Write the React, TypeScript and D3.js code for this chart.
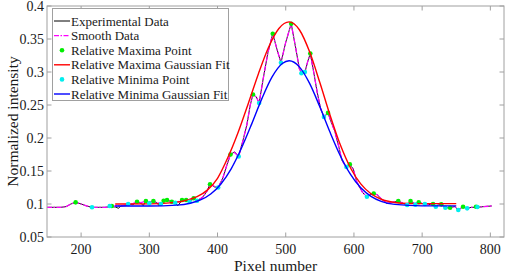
import React from "react";
import * as d3 from "d3";

// ---------- data ----------
const xTicks = [200, 300, 400, 500, 600, 700, 800];
const yTicks = [0.05, 0.1, 0.15, 0.2, 0.25, 0.3, 0.35, 0.4];
const yTickLabels = ["0.05", "0.1", "0.15", "0.2", "0.25", "0.3", "0.35", "0.4"];

const expX = [150, 160, 170, 178, 185, 192, 200, 208, 216, 225, 235, 243, 250, 255, 258, 265, 270, 276, 282, 288, 291, 295, 300, 306, 312, 314, 317, 321, 326, 333, 338, 342, 348, 354, 359, 365, 370, 378, 385, 389, 395, 401, 408, 414, 419, 425, 431, 437, 443, 448, 452, 457, 461, 467, 474, 481, 487, 493, 500, 508, 514, 520, 524, 528, 532, 536, 541, 546, 551, 556, 562, 566, 572, 578, 582, 586, 590, 594, 599, 604, 608, 613, 619, 624, 629, 634, 640, 648, 655, 665, 672, 678, 683, 690, 695, 702, 710, 716, 719, 724, 728, 734, 741, 748, 753, 760, 766, 772, 780, 790, 802];
const expY = [0.095, 0.095, 0.095, 0.096, 0.1, 0.1025, 0.1, 0.097, 0.095, 0.095, 0.095, 0.096, 0.0955, 0.0935, 0.097, 0.0975, 0.0995, 0.099, 0.1035, 0.101, 0.0975, 0.1045, 0.102, 0.1045, 0.101, 0.0975, 0.1, 0.105, 0.106, 0.1035, 0.101, 0.0975, 0.106, 0.106, 0.1035, 0.1087, 0.105, 0.11, 0.12, 0.131, 0.126, 0.125, 0.14, 0.16, 0.175, 0.179, 0.172, 0.195, 0.22, 0.25, 0.266, 0.262, 0.253, 0.29, 0.33, 0.358, 0.335, 0.314, 0.345, 0.373, 0.34, 0.305, 0.297, 0.299, 0.315, 0.328, 0.3, 0.27, 0.245, 0.232, 0.238, 0.226, 0.21, 0.186, 0.167, 0.16, 0.156, 0.16, 0.153, 0.134, 0.126, 0.117, 0.111, 0.114, 0.116, 0.114, 0.108, 0.101, 0.102, 0.1045, 0.101, 0.0985, 0.1045, 0.1, 0.1027, 0.1, 0.099, 0.1, 0.096, 0.099, 0.1, 0.0935, 0.095, 0.096, 0.091, 0.096, 0.0935, 0.095, 0.095, 0.096, 0.097];

const smoothX = [150, 160, 170, 178, 185, 192, 200, 208, 216, 225, 235, 243, 250, 258, 265, 270, 276, 282, 288, 295, 300, 306, 312, 317, 321, 326, 333, 338, 348, 354, 359, 365, 370, 378, 385, 389, 395, 401, 408, 414, 419, 425, 431, 437, 443, 448, 452, 457, 461, 467, 474, 481, 487, 493, 500, 508, 514, 520, 524, 528, 532, 536, 541, 546, 551, 556, 562, 566, 572, 578, 582, 586, 590, 594, 599, 604, 608, 613, 619, 624, 629, 634, 640, 648, 655, 665, 672, 678, 683, 690, 695, 702, 710, 716, 719, 724, 728, 734, 741, 748, 753, 760, 766, 772, 780, 790, 802];
const smoothY = [0.095, 0.095, 0.095, 0.096, 0.1, 0.1025, 0.1, 0.097, 0.095, 0.095, 0.095, 0.096, 0.097, 0.097, 0.0985, 0.1, 0.1005, 0.1035, 0.102, 0.1045, 0.103, 0.1045, 0.102, 0.1, 0.105, 0.106, 0.1035, 0.102, 0.106, 0.106, 0.1035, 0.1087, 0.105, 0.11, 0.12, 0.13, 0.127, 0.125, 0.14, 0.16, 0.175, 0.178, 0.172, 0.195, 0.22, 0.25, 0.266, 0.262, 0.253, 0.29, 0.33, 0.358, 0.335, 0.314, 0.345, 0.373, 0.34, 0.305, 0.297, 0.299, 0.315, 0.328, 0.3, 0.27, 0.245, 0.232, 0.238, 0.226, 0.21, 0.186, 0.168, 0.16, 0.156, 0.16, 0.153, 0.134, 0.126, 0.117, 0.111, 0.114, 0.116, 0.114, 0.108, 0.102, 0.102, 0.1045, 0.101, 0.0985, 0.1045, 0.1, 0.1027, 0.1, 0.099, 0.1, 0.096, 0.099, 0.1, 0.0935, 0.095, 0.096, 0.091, 0.096, 0.0935, 0.095, 0.095, 0.096, 0.097];

const maxX = [192, 245, 282, 295, 306, 321, 326, 333, 348, 354, 365, 389, 419, 452, 481, 508, 536, 562, 594, 629, 665, 683, 695, 716, 728, 741, 760, 779];
const maxY = [0.1025, 0.097, 0.1035, 0.1045, 0.1045, 0.105, 0.106, 0.1035, 0.106, 0.106, 0.1087, 0.13, 0.175, 0.266, 0.358, 0.373, 0.328, 0.238, 0.16, 0.116, 0.1045, 0.1045, 0.1027, 0.1, 0.0995, 0.0944, 0.0959, 0.0959];

const minX = [216, 242, 269, 300, 317, 338, 359, 370, 401, 431, 461, 493, 523, 528, 556, 589, 619, 678, 690, 704, 720, 734, 753, 766, 781];
const minY = [0.095, 0.097, 0.1, 0.101, 0.1, 0.102, 0.1035, 0.105, 0.125, 0.172, 0.253, 0.314, 0.298, 0.3, 0.232, 0.156, 0.111, 0.0985, 0.099, 0.1, 0.0959, 0.0944, 0.0909, 0.0934, 0.0955];

const redFitX = [250, 300, 330, 350, 370, 385, 400, 415, 430, 445, 460, 475, 490, 505, 520, 535, 550, 565, 580, 595, 610, 625, 640, 660, 680, 710, 750];
const redFitY = [0.1, 0.1002, 0.1017, 0.1045, 0.111, 0.121, 0.139, 0.17, 0.208, 0.252, 0.2975, 0.338, 0.366, 0.376, 0.364, 0.3305, 0.284, 0.2344, 0.1896, 0.1546, 0.1304, 0.1155, 0.1072, 0.1023, 0.1008, 0.1005, 0.1005];

const blueFitX = [250, 300, 340, 360, 375, 390, 405, 420, 435, 450, 465, 480, 495, 505, 520, 535, 550, 565, 580, 595, 610, 625, 640, 660, 700, 750];
const blueFitY = [0.097, 0.097, 0.0983, 0.1012, 0.1061, 0.1152, 0.1304, 0.1533, 0.1844, 0.221, 0.2597, 0.2926, 0.3129, 0.317, 0.3078, 0.2827, 0.2472, 0.2086, 0.1732, 0.1448, 0.1245, 0.1116, 0.1041, 0.0994, 0.0972, 0.0972];

const legendLabels = [
  "Experimental Data",
  "Smooth Data",
  "Relative Maxima Point",
  "Relative Maxima Gaussian Fit",
  "Relative Minima Point",
  "Relative Minima Gaussian Fit",
];

// ---------- layout ----------
const W = 505;
const H = 274;
const L = 47, R = 504, T = 6, B = 237;
const FONT = "'Liberation Serif', 'Times New Roman', serif";

const x = d3.scaleLinear().domain([150, 820]).range([L, R]);
const y = d3.scaleLinear().domain([0.05, 0.4]).range([B, T]);

const zip = (xs: number[], ys: number[]) => xs.map((v, i) => [v, ys[i]] as [number, number]);

const line = d3
  .line<[number, number]>()
  .x((d) => x(d[0]))
  .y((d) => y(d[1]));
const smoothLine = d3
  .line<[number, number]>()
  .x((d) => x(d[0]))
  .y((d) => y(d[1]))
  .curve(d3.curveMonotoneX);

const MAGENTA_DASH = "5,1.5,1.5,1.5";

export default function App() {
  const frame = "#a0a0a0";
  const tickLen = 4.5;
  const legX = 52.5, legY = 8.5, legW = 176, legH = 92;
  const rowY = (i: number) => 21 + i * 14.6;
  return (
    <svg
      width={W}
      height={H}
      style={{ position: "absolute", left: 0, top: 0, background: "#fff" }}
      fontFamily={FONT}
    >
      <rect x={0} y={0} width={W} height={H} fill="#fff" />
      <defs>
        <clipPath id="plot">
          <rect x={L} y={T} width={R - L} height={B - T} />
        </clipPath>
      </defs>

      {/* ticks (inside), on all four sides */}
      {xTicks.map((t) => (
        <g key={"xt" + t}>
          <line x1={x(t)} x2={x(t)} y1={B} y2={B - tickLen} stroke={frame} />
          <line x1={x(t)} x2={x(t)} y1={T} y2={T + tickLen} stroke={frame} />
          <text x={x(t)} y={254} textAnchor="middle" fontSize={14} fill="#1a1a1a">
            {t}
          </text>
        </g>
      ))}
      {yTicks.map((t, i) => (
        <g key={"yt" + t}>
          <line x1={L} x2={L + tickLen} y1={y(t)} y2={y(t)} stroke={frame} />
          <line x1={R} x2={R - tickLen} y1={y(t)} y2={y(t)} stroke={frame} />
          <text x={44} y={y(t)} dy="0.35em" textAnchor="end" fontSize={14} fill="#1a1a1a">
            {yTickLabels[i]}
          </text>
        </g>
      ))}

      {/* data */}
      <g clipPath="url(#plot)">
        <path d={line(zip(expX, expY)) || ""} fill="none" stroke="#000" strokeWidth={0.9} />
        <path
          d={line(zip(smoothX, smoothY)) || ""}
          fill="none"
          stroke="#ff00ff"
          strokeWidth={1.3}
          strokeDasharray={MAGENTA_DASH}
        />
        {zip(maxX, maxY).map((p, i) => (
          <circle key={"mx" + i} cx={x(p[0])} cy={y(p[1])} r={2.3} fill="#00ee00" />
        ))}
        <path d={smoothLine(zip(redFitX, redFitY)) || ""} fill="none" stroke="#ff0000" strokeWidth={1.4} />
        {zip(minX, minY).map((p, i) => (
          <circle key={"mn" + i} cx={x(p[0])} cy={y(p[1])} r={2.3} fill="#00eeee" />
        ))}
        <path d={smoothLine(zip(blueFitX, blueFitY)) || ""} fill="none" stroke="#0000ff" strokeWidth={1.4} />
      </g>

      {/* frame */}
      <rect x={L} y={T} width={R - L} height={B - T} fill="none" stroke={frame} strokeWidth={1} />

      {/* legend */}
      <rect x={legX} y={legY} width={legW} height={legH} fill="#fff" stroke={frame} strokeWidth={1} />
      {legendLabels.map((lab, i) => {
        const cy = rowY(i);
        let sym: React.ReactNode = null;
        if (i === 0) sym = <line x1={54} x2={70} y1={cy} y2={cy} stroke="#000" strokeWidth={1} />;
        if (i === 1)
          sym = (
            <line x1={54} x2={70} y1={cy} y2={cy} stroke="#ff00ff" strokeWidth={1.3} strokeDasharray={MAGENTA_DASH} />
          );
        if (i === 2) sym = <circle cx={62} cy={cy} r={2.3} fill="#00ee00" />;
        if (i === 3) sym = <line x1={54} x2={70} y1={cy} y2={cy} stroke="#ff0000" strokeWidth={1.4} />;
        if (i === 4) sym = <circle cx={62} cy={cy} r={2.3} fill="#00eeee" />;
        if (i === 5) sym = <line x1={54} x2={70} y1={cy} y2={cy} stroke="#0000ff" strokeWidth={1.4} />;
        return (
          <g key={"lg" + i}>
            {sym}
            <text x={71} y={cy} dy="0.35em" fontSize={13} fill="#1a1a1a">
              {lab}
            </text>
          </g>
        );
      })}

      {/* axis titles */}
      <text x={(L + R) / 2} y={271} textAnchor="middle" fontSize={15.5} fill="#1a1a1a">
        Pixel number
      </text>
      <text
        transform={`translate(13, ${(T + B) / 2}) rotate(-90)`}
        textAnchor="middle"
        dy="0.35em"
        fontSize={15.5}
        fill="#1a1a1a"
      >
        Normalized intensity
      </text>
    </svg>
  );
}
